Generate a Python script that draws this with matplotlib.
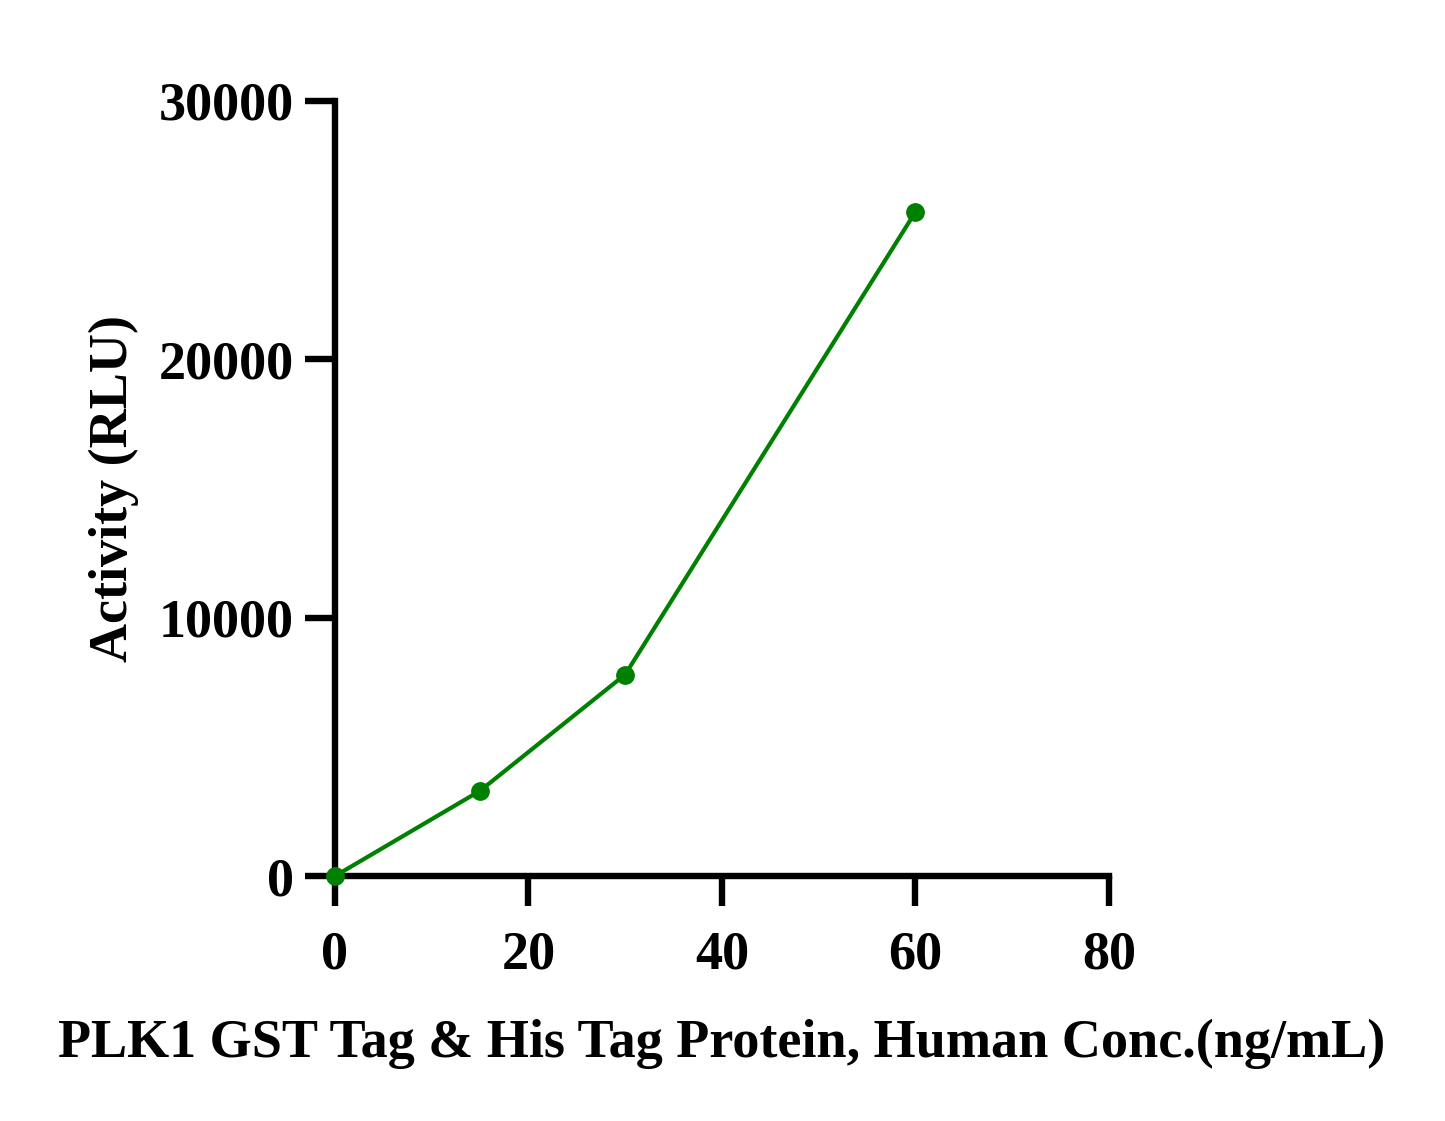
import matplotlib
matplotlib.use("Agg")
import matplotlib.pyplot as plt

# concentration (ng/mL) and activity (RLU)
conc = [0, 15, 30, 60]
activity = [0, 3300, 7800, 25700]

x_ticks = [0, 20, 40, 60, 80]
y_ticks = [0, 10000, 20000, 30000]

plt.rcParams['font.family'] = ['Liberation Serif', 'DejaVu Serif']
plt.rcParams['font.weight'] = 'bold'

fig = plt.figure(figsize=(14.45, 11.21), dpi=100)
ax = fig.add_axes([0.2318, 0.2185, 0.5356, 0.6915])

ax.plot(conc, activity, color='#008000', linewidth=3.0, marker='o',
        markersize=12.5, clip_on=False, zorder=5)

ax.set_xlim(0, 80)
ax.set_ylim(0, 30000)
ax.set_xticks(x_ticks)
ax.set_yticks(y_ticks)

for side in ['top', 'right']:
    ax.spines[side].set_visible(False)
for side in ['left', 'bottom']:
    ax.spines[side].set_linewidth(4.6)

ax.tick_params(axis='both', direction='out', length=21.5, width=4.6,
               labelsize=39)
ax.tick_params(axis='y', pad=8)
ax.tick_params(axis='x', pad=18)
for lbl in ax.get_xticklabels() + ax.get_yticklabels():
    lbl.set_fontweight('bold')

ax.set_ylabel('Activity (RLU)', fontsize=39, fontweight='bold', labelpad=14)
ax.set_xlabel('PLK1 GST Tag & His Tag Protein, Human Conc.(ng/mL)',
              fontsize=39, fontweight='bold', labelpad=27)

fig.savefig('out.png', dpi=100, facecolor='white')
